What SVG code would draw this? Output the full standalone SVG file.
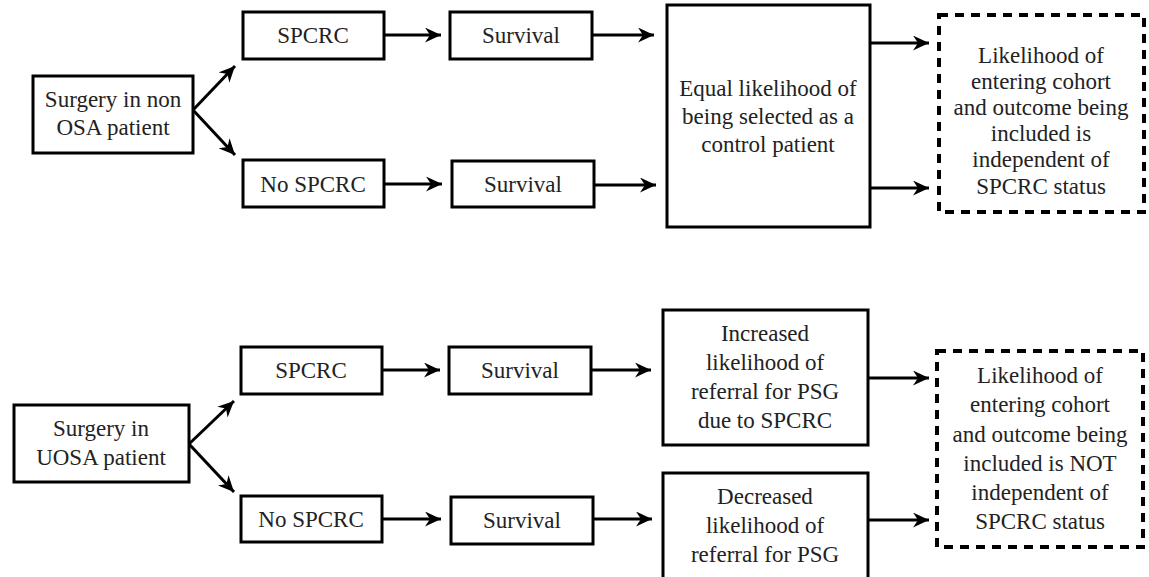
<svg xmlns="http://www.w3.org/2000/svg" width="1149" height="577" viewBox="0 0 1149 577">
  <style>
    .box { fill: #fff; stroke: #000; stroke-width: 3; }
    .dash { fill: #fff; stroke: #000; stroke-width: 4; stroke-dasharray: 9 7; }
    .lbl { font-family: "Liberation Serif", "Times New Roman", serif; font-size: 23px; fill: #222; text-anchor: middle; }
    .conn { fill: none; stroke: #000; stroke-width: 3; marker-end: url(#arrow); }
  </style>
  <defs>
    <marker id="arrow" markerUnits="userSpaceOnUse" markerWidth="17" markerHeight="15" refX="16" refY="7.5" orient="auto">
      <path d="M0,0 L16,7.5 L0,15 L5,7.5 z" fill="#000"/>
    </marker>
  </defs>
  <rect width="1149" height="577" fill="#fff"/>

  <!-- connectors -->
  <g id="connectors">
    <!-- upper pathway -->
    <line class="conn" x1="193" y1="110" x2="235" y2="66"/>
    <line class="conn" x1="193" y1="110" x2="235" y2="155"/>
    <line class="conn" x1="384" y1="35" x2="441" y2="35"/>
    <line class="conn" x1="384" y1="184" x2="442" y2="184"/>
    <line class="conn" x1="592" y1="35" x2="654" y2="35"/>
    <line class="conn" x1="594" y1="185" x2="656" y2="185"/>
    <line class="conn" x1="870" y1="43" x2="929" y2="43"/>
    <line class="conn" x1="870" y1="188" x2="929" y2="188"/>
    <!-- lower pathway -->
    <line class="conn" x1="189" y1="444" x2="234" y2="401"/>
    <line class="conn" x1="189" y1="444" x2="234" y2="492"/>
    <line class="conn" x1="382" y1="370" x2="440" y2="370"/>
    <line class="conn" x1="382" y1="519" x2="441" y2="519"/>
    <line class="conn" x1="591" y1="370" x2="651" y2="370"/>
    <line class="conn" x1="593" y1="519" x2="652" y2="519"/>
    <line class="conn" x1="868" y1="378" x2="929" y2="378"/>
    <line class="conn" x1="868" y1="520" x2="929" y2="520"/>
  </g>

  <!-- upper pathway nodes -->
  <g id="surgery-non-osa">
    <rect class="box" x="33" y="76" width="160" height="77"/>
    <text class="lbl" x="113" y="107">Surgery in non</text>
    <text class="lbl" x="113" y="135">OSA patient</text>
  </g>
  <g id="spcrc-top">
    <rect class="box" x="243" y="12" width="141" height="47"/>
    <text class="lbl" x="313" y="43">SPCRC</text>
  </g>
  <g id="no-spcrc-top">
    <rect class="box" x="243" y="160" width="141" height="47"/>
    <text class="lbl" x="313" y="192">No SPCRC</text>
  </g>
  <g id="survival-top-1">
    <rect class="box" x="450" y="12" width="142" height="47"/>
    <text class="lbl" x="521" y="43">Survival</text>
  </g>
  <g id="survival-top-2">
    <rect class="box" x="452" y="161" width="142" height="46"/>
    <text class="lbl" x="523" y="192">Survival</text>
  </g>
  <g id="equal-likelihood">
    <rect class="box" x="667" y="5" width="203" height="222"/>
    <text class="lbl" x="768" y="96">Equal likelihood of</text>
    <text class="lbl" x="768" y="124">being selected as a</text>
    <text class="lbl" x="768" y="152">control patient</text>
  </g>
  <g id="independent">
    <rect class="dash" x="939" y="15" width="205" height="197"/>
    <text class="lbl" x="1041" y="63">Likelihood of</text>
    <text class="lbl" x="1041" y="89">entering cohort</text>
    <text class="lbl" x="1041" y="115">and outcome being</text>
    <text class="lbl" x="1041" y="141">included is</text>
    <text class="lbl" x="1041" y="167">independent of</text>
    <text class="lbl" x="1041" y="194">SPCRC status</text>
  </g>

  <!-- lower pathway nodes -->
  <g id="surgery-uosa">
    <rect class="box" x="14" y="405" width="175" height="77"/>
    <text class="lbl" x="101" y="436">Surgery in</text>
    <text class="lbl" x="101" y="465">UOSA patient</text>
  </g>
  <g id="spcrc-bottom">
    <rect class="box" x="241" y="347" width="141" height="47"/>
    <text class="lbl" x="311" y="378">SPCRC</text>
  </g>
  <g id="no-spcrc-bottom">
    <rect class="box" x="241" y="496" width="141" height="46"/>
    <text class="lbl" x="311" y="527">No SPCRC</text>
  </g>
  <g id="survival-bottom-1">
    <rect class="box" x="449" y="347" width="142" height="47"/>
    <text class="lbl" x="520" y="378">Survival</text>
  </g>
  <g id="survival-bottom-2">
    <rect class="box" x="451" y="497" width="142" height="47"/>
    <text class="lbl" x="522" y="528">Survival</text>
  </g>
  <g id="increased-referral">
    <rect class="box" x="663" y="310" width="205" height="135"/>
    <text class="lbl" x="765" y="341">Increased</text>
    <text class="lbl" x="765" y="370">likelihood of</text>
    <text class="lbl" x="765" y="399">referral for PSG</text>
    <text class="lbl" x="765" y="428">due to SPCRC</text>
  </g>
  <g id="decreased-referral">
    <rect class="box" x="663" y="473" width="205" height="140"/>
    <text class="lbl" x="765" y="504">Decreased</text>
    <text class="lbl" x="765" y="533">likelihood of</text>
    <text class="lbl" x="765" y="562">referral for PSG</text>
  </g>
  <g id="not-independent">
    <rect class="dash" x="937" y="351" width="206" height="196"/>
    <text class="lbl" x="1040" y="383">Likelihood of</text>
    <text class="lbl" x="1040" y="412">entering cohort</text>
    <text class="lbl" x="1040" y="442">and outcome being</text>
    <text class="lbl" x="1040" y="471">included is NOT</text>
    <text class="lbl" x="1040" y="500">independent of</text>
    <text class="lbl" x="1040" y="529">SPCRC status</text>
  </g>
</svg>
